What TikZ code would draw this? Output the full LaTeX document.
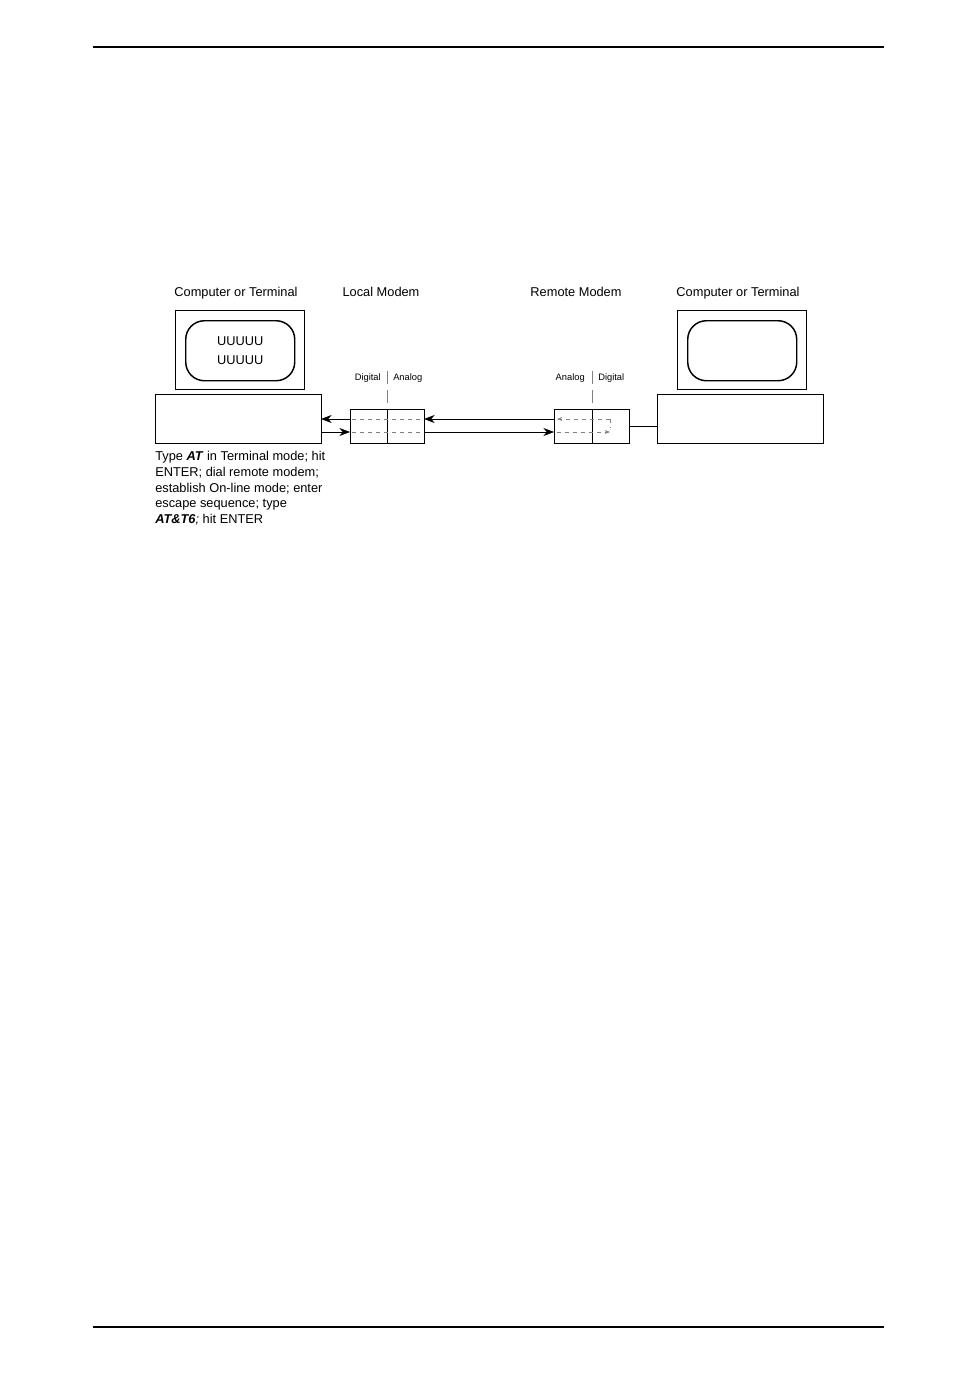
\documentclass[tikz,border=0pt]{standalone}
\usepackage{fontspec}
\setmainfont{Liberation Sans}
\usetikzlibrary{arrows.meta}
\begin{document}
\begin{tikzpicture}[x=0.75pt,y=-0.75pt,
  box/.style={draw,line width=1.1pt},
  lbl/.style={font=\fontsize{9.6pt}{11pt}\selectfont,inner sep=0},
  small/.style={font=\fontsize{7pt}{8pt}\selectfont,inner sep=0},
  sig/.style={line width=0.5pt,-{Stealth[length=8pt,width=6pt]}},
  dsig/.style={gray,dashed,line width=0.5pt},
  tick/.style={gray,line width=0.7pt}]
\useasboundingbox (0,0) rectangle (954,1373);
\draw[line width=1.6pt] (93,47) -- (884,47);
\draw[line width=1.6pt] (93,1327) -- (884,1327);
% left computer
\node[box,minimum width=129*0.75pt,minimum height=79*0.75pt,anchor=north west,inner sep=0] (lmon) at (175,310) {};
\node[box,rounded corners=14pt,minimum width=109*0.75pt,minimum height=60*0.75pt,anchor=north west,inner sep=0,align=center,lbl] (lscr) at (185,320) {UUUUU\\[3pt]UUUUU};
\node[box,minimum width=166*0.75pt,minimum height=49*0.75pt,anchor=north west,inner sep=0] (lbase) at (155,394) {};
% right computer
\node[box,minimum width=129*0.75pt,minimum height=79*0.75pt,anchor=north west,inner sep=0] (rmon) at (677,310) {};
\node[box,rounded corners=14pt,minimum width=109*0.75pt,minimum height=60*0.75pt,anchor=north west,inner sep=0] (rscr) at (687,320) {};
\node[box,minimum width=166*0.75pt,minimum height=49*0.75pt,anchor=north west,inner sep=0] (rbase) at (657,394) {};
% modems
\node[box,minimum width=74*0.75pt,minimum height=34*0.75pt,anchor=north west,inner sep=0] (lm) at (350,409) {};
\node[box,minimum width=75*0.75pt,minimum height=34*0.75pt,anchor=north west,inner sep=0] (rm) at (554,409) {};
\draw[line width=0.5pt] (387,409) -- (387,443);
\draw[line width=0.5pt] (592,409) -- (592,443);
\draw[tick] (387,371) -- (387,384) (387,390) -- (387,403);
\draw[tick] (592,371) -- (592,384) (592,390) -- (592,403);
\node[small,anchor=east] (ldig) at (381,378) {Digital};
\node[small,anchor=west] (lana) at (393,378) {Analog};
\node[small,anchor=east] (rana) at (585,378) {Analog};
\node[small,anchor=west] (rdig) at (598,378) {Digital};
% dashed inside
\draw[dsig] (352,419) -- (422,419);
\draw[dsig] (352,432) -- (422,432);
\draw[dsig,-{Stealth[length=4pt,width=3pt]}] (610,419) -- (557,419);
\draw[dsig,-{Stealth[length=4pt,width=3pt]}] (557,432) -- (610,432);
\draw[dsig] (610,419) -- (610,428);
% signals
\coordinate (a1) at (321,419); \coordinate (a2) at (321,432);
\draw[sig] (350,419) -- (a1);
\draw[sig] (a2) -- (350,432);
\draw[sig] (554,419) -- (424,419);
\draw[sig] (424,432) -- (554,432);
\draw[line width=1pt] (rm.east) -- (rbase.west |- rm.east);
% labels
\node[lbl] (t1) at (236,293) {Computer or Terminal};
\node[lbl] (t2) at (381,292) {Local Modem};
\node[lbl] (t3) at (576,292) {Remote Modem};
\node[lbl] (t4) at (738,293) {Computer or Terminal};
\node[lbl,anchor=north west,align=left,font=\fontsize{9.6pt}{11.8pt}\selectfont] (txt) at (155,451)
 {Type \textbf{\itshape AT} in Terminal mode; hit\\ENTER; dial remote modem;\\establish On-line mode; enter\\escape sequence; type\\\textbf{\itshape AT\&T6}\textit{;} hit ENTER};
\end{tikzpicture}
\end{document}
